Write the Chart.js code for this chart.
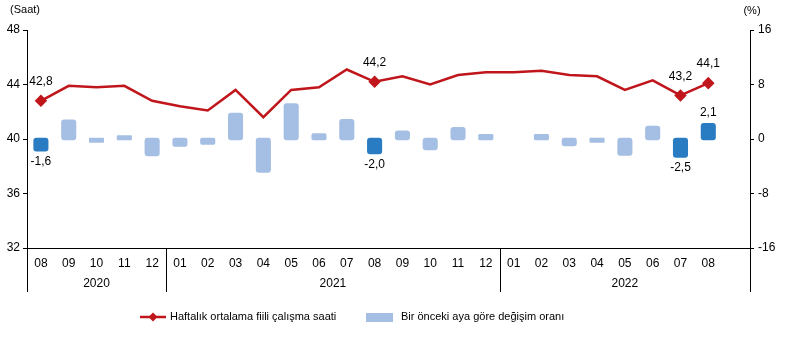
<!DOCTYPE html>
<html>
<head>
<meta charset="utf-8">
<script src="https://cdn.jsdelivr.net/npm/chart.js@4.4.0/dist/chart.umd.min.js"></script>
<style>
  html, body { margin: 0; padding: 0; background: #fff; }
  #wrap { width: 785px; height: 338px; }
</style>
</head>
<body>
<div id="wrap"><canvas id="chart" width="785" height="338"></canvas></div>
<script>
// months on the x axis (last slot left empty)
const months = ['08','09','10','11','12','01','02','03','04','05','06','07','08','09','10','11','12','01','02','03','04','05','06','07','08',''];
const years = [
  { label: '2020', from: 0, to: 4 },
  { label: '2021', from: 5, to: 16 },
  { label: '2022', from: 17, to: 25 }
];
// weekly average actual hours worked
const hours = [42.8, 43.9, 43.8, 43.9, 42.8, 42.4, 42.1, 43.6, 41.6, 43.6, 43.8, 45.1, 44.2, 44.6, 44.0, 44.7, 44.9, 44.9, 45.0, 44.7, 44.6, 43.6, 44.3, 43.2, 44.1, null];
// monthly change (%)
const change = [-1.6, 2.6, -0.3, 0.3, -2.3, -0.9, -0.6, 3.6, -4.7, 5.0, 0.6, 2.7, -2.0, 1.0, -1.4, 1.5, 0.5, 0, 0.5, -0.8, -0.3, -2.2, 1.7, -2.5, 2.1, null];
// months whose values get labels
const marked = [0, 12, 23, 24];

const lineColor = '#c0161b';
const barLight = '#a4bfe3';
const barDark = '#2a7cc2';
const font = 'Liberation Sans, Arial, sans-serif';

const fmt = v => v.toFixed(1).replace('.', ',');

const extras = {
  id: 'extras',
  afterDatasetsDraw(chart) {
    const ctx = chart.ctx;
    const x = chart.scales.x;
    const area = chart.chartArea;
    ctx.save();
    ctx.fillStyle = '#000';
    ctx.font = '12px ' + font;
    ctx.textAlign = 'center';
    ctx.textBaseline = 'middle';
    // value labels
    const lineMeta = chart.getDatasetMeta(0);
    const barMeta = chart.getDatasetMeta(1);
    marked.forEach(i => {
      const p = lineMeta.data[i];
      ctx.fillText(fmt(hours[i]), p.x, p.y - 19);
      const b = barMeta.data[i];
      if (change[i] < 0) ctx.fillText(fmt(change[i]), b.x, b.y + 12);
      else ctx.fillText(fmt(change[i]), b.x, b.y - 12);
    });

    // year separators and labels below months
    ctx.strokeStyle = '#000';
    ctx.lineWidth = 1;
    const bottom = area.bottom + 44;
    const edge = i => x.getPixelForValue(i) - (x.getPixelForValue(1) - x.getPixelForValue(0)) / 2;
    const seps = [area.left, edge(5), edge(17), area.right];
    seps.forEach(sx => {
      const px = Math.round(sx) + 0.5;
      ctx.beginPath();
      ctx.moveTo(px, area.bottom);
      ctx.lineTo(px, bottom);
      ctx.stroke();
    });
    years.forEach((y, k) => {
      const cx = (seps[k] + seps[k + 1]) / 2;
      ctx.fillText(y.label, cx, area.bottom + 36);
    });

    // axis units
    ctx.font = '11px ' + font;
    ctx.fillText('(Saat)', 25, 10);
    ctx.fillText('(%)', 752, 11);

    // legend
    const ly = 317;
    ctx.strokeStyle = lineColor;
    ctx.lineWidth = 2.5;
    ctx.beginPath();
    ctx.moveTo(140, ly);
    ctx.lineTo(166, ly);
    ctx.stroke();
    ctx.fillStyle = lineColor;
    ctx.beginPath();
    ctx.moveTo(153, ly - 4.5);
    ctx.lineTo(157.5, ly);
    ctx.lineTo(153, ly + 4.5);
    ctx.lineTo(148.5, ly);
    ctx.closePath();
    ctx.fill();
    ctx.fillStyle = barLight;
    ctx.fillRect(366, 313, 27, 9);
    ctx.fillStyle = '#000';
    ctx.textAlign = 'left';
    ctx.fillText('Haftalık ortalama fiili çalışma saati', 170, ly);
    ctx.fillText('Bir önceki aya göre değişim oranı', 401, ly);
    ctx.restore();
  }
};

new Chart(document.getElementById('chart'), {
  data: {
    labels: months,
    datasets: [
      {
        type: 'line',
        data: hours,
        yAxisID: 'y',
        borderColor: lineColor,
        backgroundColor: lineColor,
        borderWidth: 2.5,
        tension: 0,
        pointStyle: 'rectRot',
        pointRadius: hours.map((v, i) => marked.includes(i) ? 4.5 : 0),
        pointHoverRadius: 0,
        order: 0
      },
      {
        type: 'bar',
        data: change,
        yAxisID: 'y1',
        backgroundColor: change.map((v, i) => marked.includes(i) ? barDark : barLight),
        borderRadius: 3,
        borderSkipped: false,
        // no visible bar for a zero change
        inflateAmount: c => (c.raw === 0 ? 0 : 1.7),
        categoryPercentage: 1,
        barPercentage: 0.42,
        order: 1
      }
    ]
  },
  options: {
    responsive: false,
    animation: false,
    events: [],
    layout: { padding: { top: 30, left: 0, right: 0, bottom: 0 } },
    plugins: { legend: { display: false }, tooltip: { enabled: false } },
    scales: {
      x: {
        offset: true,
        grid: { display: false, drawTicks: false },
        border: { display: true, color: '#000', width: 1 },
        ticks: { color: '#000', font: { family: font, size: 12 }, padding: 8, maxRotation: 0, autoSkip: false },
        afterFit(s) { s.height = 90; }
      },
      y: {
        position: 'left',
        min: 32, max: 48,
        ticks: { stepSize: 4, color: '#000', font: { family: font, size: 12 }, padding: 3 },
        grid: { drawOnChartArea: false, drawTicks: true, tickLength: 4, color: '#000' },
        border: { display: true, color: '#000', width: 1 },
        afterFit(s) { s.width = 27; }
      },
      y1: {
        position: 'right',
        min: -16, max: 16,
        ticks: { stepSize: 8, color: '#000', font: { family: font, size: 12 }, padding: 4 },
        grid: { drawOnChartArea: false, drawTicks: true, tickLength: 4, color: '#000' },
        border: { display: true, color: '#000', width: 1 },
        afterFit(s) { s.width = 35; }
      }
    }
  },
  plugins: [extras]
});
</script>
</body>
</html>
